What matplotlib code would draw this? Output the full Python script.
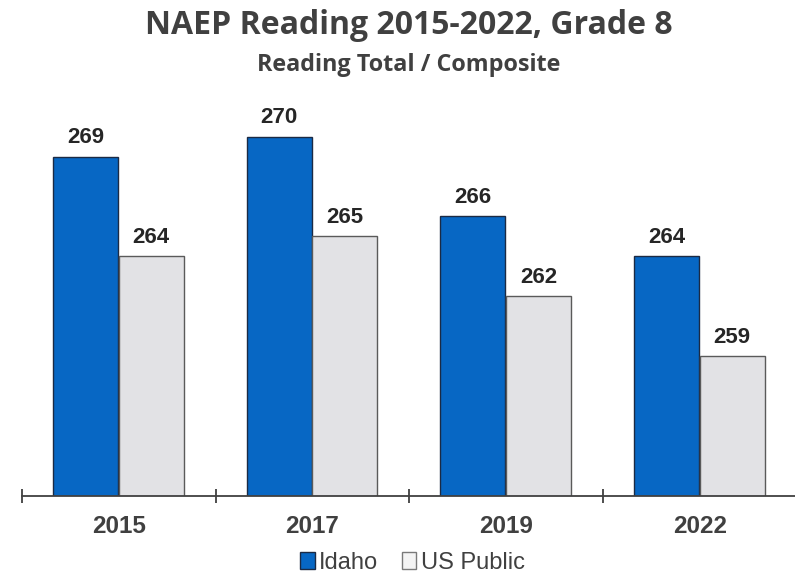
import numpy as np
import matplotlib.pyplot as plt
from matplotlib.patches import Patch

# Data
years = ["2015", "2017", "2019", "2022"]
idaho = [269, 270, 266, 264]
us_public = [264, 265, 262, 259]

blue = "#0767c4"
gray_face = "#e2e2e5"

fig = plt.figure(figsize=(7.95, 5.75), dpi=100)
ax = fig.add_axes([0.0277, 0.1374, 0.9745, 0.6944])

x = np.arange(len(years))
w = 0.335
b1 = ax.bar(x - 0.172, idaho, w, color=blue, edgecolor="#1b2a44", linewidth=1.0, label="Idaho")
b2 = ax.bar(x + 0.167, us_public, w, color=gray_face, edgecolor="#5a5a5a", linewidth=1.0,
            label="US Public")

ax.set_ylim(252.0, 272)
ax.set_xlim(-0.5, len(years) - 0.5)

# value labels above the bars
for rects, vals in [(b1, idaho), (b2, us_public)]:
    for r, v in zip(rects, vals):
        ax.annotate(str(v), (r.get_x() + r.get_width() / 2, v), xytext=(0, 6),
                    textcoords="offset points", ha="center", va="bottom",
                    fontsize=16, fontweight="bold", color="#262626", family="Liberation Sans")

# axes styling
for s in ["top", "right", "left"]:
    ax.spines[s].set_visible(False)
ax.spines["bottom"].set_color("#404040")
ax.spines["bottom"].set_linewidth(1.3)
ax.set_yticks([])
ax.set_xticks(np.arange(-0.5, len(years)))
ax.set_xticklabels([])
ax.tick_params(axis="x", which="major", direction="inout", length=10, width=1.3, color="#404040")
ax.set_xticks(x, minor=True)
ax.set_xticklabels(years, minor=True)
ax.tick_params(axis="x", which="minor", length=0, pad=14, labelsize=17.5, labelcolor="#404040")
for t in ax.get_xticklabels(minor=True):
    t.set_fontweight("bold")
    t.set_family("Liberation Sans")

fig.text(0.514, 1 - 34.3 / 575, "NAEP Reading 2015-2022, Grade 8", ha="center", va="baseline",
         fontsize=23, fontweight="bold", color="#404040", family="Open Sans")
fig.text(0.514, 1 - 70.7 / 575, "Reading Total / Composite", ha="center", va="baseline",
         fontsize=16.8, fontweight="bold", color="#404040", family="Open Sans")

handles = [Patch(facecolor=blue, edgecolor="#1b2a44", label="Idaho"),
           Patch(facecolor="#f4f4f4", edgecolor="#7a7a7a", label="US Public")]
fig.legend(handles=handles, loc="center", bbox_to_anchor=(0.519, 0.021), ncol=2, frameon=False,
           handlelength=0.6, handleheight=0.75, handletextpad=0.2, columnspacing=1.0,
           prop={"family": "Liberation Sans", "size": 17}, labelcolor="#404040")

fig.savefig("out.png", dpi=100)
